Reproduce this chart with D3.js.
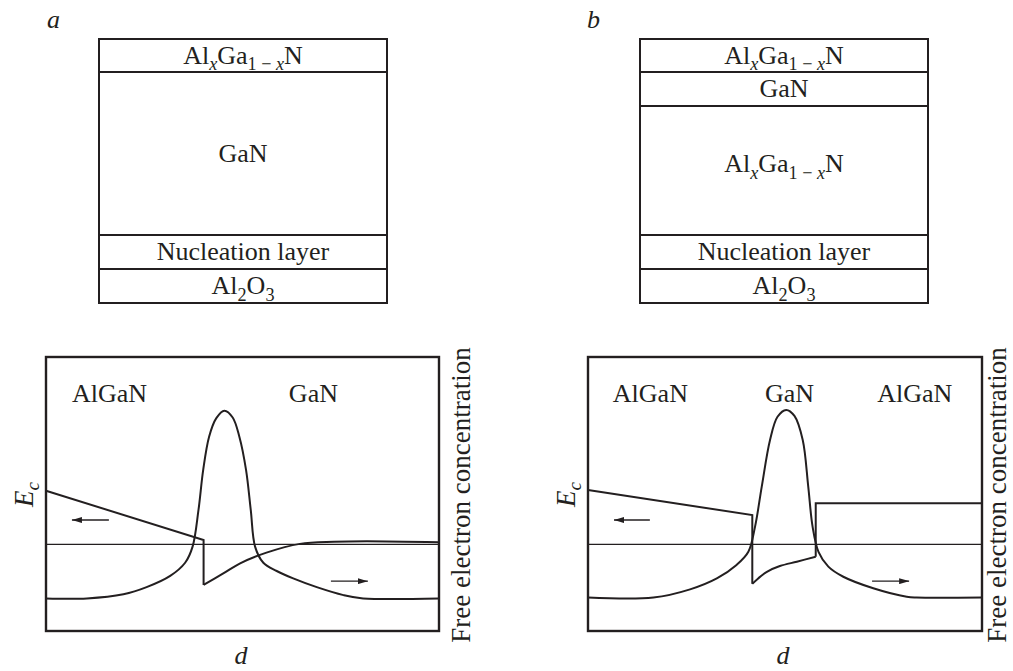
<!DOCTYPE html>
<html><head><meta charset="utf-8">
<script src="https://cdn.jsdelivr.net/npm/d3@7"></script>
<style>
body{margin:0;background:#fff}
svg{display:block}
</style>
</head><body>
<svg id="chart" width="1013" height="671"></svg>
<script>
// ---------------- DATA ----------------
const panelLetters = ["a", "b"];

// layer stacks (top to bottom), thickness in arbitrary units
const layerNamesA = ["Al_xGa_{1 − x}N", "GaN", "Nucleation layer", "Al_2O_3"];
const layerThickA = [33, 163, 34, 34];
const layerNamesB = ["Al_xGa_{1 − x}N", "GaN", "Al_xGa_{1 − x}N", "Nucleation layer", "Al_2O_3"];
const layerThickB = [33, 34, 129, 34, 34];

// band diagram region names and their left position (d units, 0..100)
const regionNamesA = ["AlGaN", "GaN"];
const regionXA = [6.6, 61.8];
const regionNamesB = ["AlGaN", "GaN", "AlGaN"];
const regionXB = [6.3, 44.9, 73.4];

// Fermi level (relative energy units 0..100)
const fermiA = 31.6;
const fermiB = 31.6;

// conduction band edge, panel a
const ecA_straight = [[0, 51.2], [40.1, 33.2], [40.1, 16.8]];
const ecA_curve = [[40.1, 16.8], [45.0, 20.9], [49.4, 24.7], [56.1, 28.6], [64.6, 31.8], [73.3, 32.6], [81.6, 32.8], [100, 32.4]];

// conduction band edge, panel b
const ecB_straight1 = [[0, 51.5], [41.7, 42.3], [41.7, 17.2]];
const ecB_curve = [[41.7, 17.2], [43.2, 19.2], [45.4, 21.6], [48.7, 23.7], [53.0, 25.3], [57.8, 27.1]];
const ecB_straight2 = [[57.8, 27.1], [57.8, 46.6], [100, 46.6]];

// free electron concentration, panel a
const nA = [[0, 11.9], [10.4, 11.9], [19.7, 13.4], [25.6, 16.0], [31.6, 20.1], [35.4, 24.9], [37.3, 30.8],
  [38.8, 44.2], [40.0, 58.8], [41.5, 70.9], [43.3, 77.6], [45.4, 80.4], [47.5, 77.9], [49.2, 70.9],
  [50.9, 58.8], [52.1, 44.2], [53.2, 30.8], [55.3, 24.9], [58.7, 21.9], [62.9, 19.2], [68.9, 16.0],
  [75.7, 13.1], [80.7, 11.9], [100, 11.9]];

// free electron concentration, panel b
const nB = [[0, 12.2], [16.6, 12.2], [25.9, 15.2], [32.7, 19.2], [37.7, 24.1], [40.7, 28.9], [42.4, 38.1],
  [44.1, 52.7], [46.2, 69.7], [48.1, 78.2], [50.3, 80.7], [52.4, 78.5], [54.5, 69.7], [55.9, 52.7],
  [57.0, 38.1], [58.5, 28.9], [61.0, 23.5], [64.8, 19.8], [72.4, 15.6], [80.9, 12.5], [83.4, 12.2], [100, 12.2]];

// direction arrows [x0, x1, y] in panel units (left arrow -> Ec axis, right arrow -> concentration axis)
const arrowsA = [[16.0, 6.6, 40.5], [72.5, 81.9, 18.2]];
const arrowsB = [[15.7, 6.6, 40.5], [72.1, 81.5, 18.2]];

const axisLabelY2 = "Free electron concentration";
const axisLabelX = "d";

// ---------------- LAYOUT ----------------
const INK = "#231f20";
const FONT = "'Liberation Serif', serif";
const svg = d3.select("#chart");

svg.append("defs").append("marker")
  .attr("id", "ah").attr("viewBox", "0 0 10 6").attr("refX", 10).attr("refY", 3)
  .attr("markerWidth", 10).attr("markerHeight", 6).attr("markerUnits", "userSpaceOnUse")
  .attr("orient", "auto")
  .append("path").attr("d", "M0,0 L10,3 L0,6 Z").attr("fill", INK);

function txt(parent) {
  return parent.append("text").attr("font-family", FONT).attr("fill", INK);
}

// rich text parser: "_x" or "_{...}" = subscript, letter x is italic
function richText(sel, str, size) {
  const segs = [];
  let i = 0;
  while (i < str.length) {
    if (str[i] === "_") {
      let s;
      if (str[i + 1] === "{") { const j = str.indexOf("}", i); s = str.slice(i + 2, j); i = j + 1; }
      else { s = str[i + 1]; i += 2; }
      segs.push({ t: s, sub: true });
    } else {
      let j = i; while (j < str.length && str[j] !== "_") j++;
      segs.push({ t: str.slice(i, j), sub: false }); i = j;
    }
  }
  let shifted = 0;
  segs.forEach(sg => {
    const wantShift = sg.sub ? size * 0.26 : 0;
    const dy = wantShift - shifted;
    shifted = wantShift;
    const parts = sg.t.split(/(x)/).filter(p => p.length);
    parts.forEach((p, k) => {
      const ts = sel.append("tspan").text(p)
        .attr("font-family", FONT)
        .attr("font-size", sg.sub ? size * 0.7 : size)
        .attr("font-style", p === "x" ? "italic" : "normal");
      if (k === 0 && dy !== 0) ts.attr("dy", dy);
    });
  });
}

// ---- top layer stacks ----
const stacks = [
  { names: layerNamesA, thick: layerThickA, x0: 99, x1: 387, letterX: 47, labelFrac: [0.5, 0.5, 0.5, 0.5] },
  { names: layerNamesB, thick: layerThickB, x0: 640, x1: 928, letterX: 587, labelFrac: [0.5, 0.5, 0.45, 0.5, 0.5] }
];
stacks.forEach((st, si) => {
  const total = d3.sum(st.thick);
  const ys = d3.scaleLinear().domain([0, total]).range([39, 303]);
  const cum = d3.cumsum([0].concat(st.thick));
  const g = svg.append("g");
  txt(svg).attr("x", st.letterX).attr("y", 28).attr("font-size", 26)
    .attr("font-style", "italic").text(panelLetters[si]);
  st.names.forEach((nm, i) => {
    g.append("rect").attr("x", st.x0).attr("y", ys(cum[i]))
      .attr("width", st.x1 - st.x0).attr("height", ys(cum[i + 1]) - ys(cum[i]))
      .attr("fill", "none").attr("stroke", INK).attr("stroke-width", 2);
    const yc = ys(cum[i] + st.thick[i] * st.labelFrac[i]);
    const t = txt(g).attr("x", (st.x0 + st.x1) / 2).attr("y", yc + 8)
      .attr("text-anchor", "middle").attr("font-size", 26);
    richText(t, nm, 26);
  });
});

// ---- band diagrams ----
const panels = [
  { x0: 46, x1: 439, regions: regionNamesA, regionX: regionXA, fermi: fermiA,
    straight: [ecA_straight], curved: [ecA_curve], n: nA, arrows: arrowsA,
    ecX: 33, ecY: 507, y2X: 470, dX: 241 },
  { x0: 588, x1: 982, regions: regionNamesB, regionX: regionXB, fermi: fermiB,
    straight: [ecB_straight1, ecB_straight2], curved: [ecB_curve], n: nB, arrows: arrowsB,
    ecX: 575, ecY: 507, y2X: 1006, dX: 783 }
];
panels.forEach(p => {
  const x = d3.scaleLinear().domain([0, 100]).range([p.x0, p.x1]);
  const y = d3.scaleLinear().domain([0, 100]).range([631, 357]);
  const g = svg.append("g");
  const lin = d3.line().x(d => x(d[0])).y(d => y(d[1]));
  const smooth = d3.line().x(d => x(d[0])).y(d => y(d[1])).curve(d3.curveCatmullRom.alpha(0.5));

  g.append("line").attr("x1", x(0)).attr("x2", x(100)).attr("y1", y(p.fermi)).attr("y2", y(p.fermi))
    .attr("stroke", INK).attr("stroke-width", 1.1);

  p.straight.forEach(s => g.append("path").attr("d", lin(s)).attr("fill", "none")
    .attr("stroke", INK).attr("stroke-width", 2).attr("stroke-linejoin", "miter"));
  p.curved.forEach(s => g.append("path").attr("d", smooth(s)).attr("fill", "none")
    .attr("stroke", INK).attr("stroke-width", 2));

  g.append("path").attr("d", smooth(p.n)).attr("fill", "none")
    .attr("stroke", INK).attr("stroke-width", 2);

  p.arrows.forEach(a => g.append("line").attr("x1", x(a[0])).attr("x2", x(a[1]))
    .attr("y1", y(a[2])).attr("y2", y(a[2])).attr("stroke", INK).attr("stroke-width", 1.4)
    .attr("marker-end", "url(#ah)"));

  g.append("rect").attr("x", x(0)).attr("y", y(100)).attr("width", x(100) - x(0))
    .attr("height", y(0) - y(100)).attr("fill", "none").attr("stroke", INK).attr("stroke-width", 2.4);

  p.regions.forEach((r, i) => txt(g).attr("x", x(p.regionX[i])).attr("y", y(83.6))
    .attr("font-size", 26).text(r));

  const ec = txt(g).attr("transform", `translate(${p.ecX},${p.ecY}) rotate(-90)`)
    .attr("font-size", 27).attr("font-style", "italic");
  ec.append("tspan").attr("font-family", FONT).text("E");
  ec.append("tspan").attr("font-family", FONT).text("c").attr("font-size", 19).attr("dy", 6);

  txt(g).attr("transform", `translate(${p.y2X},${(357 + 631) / 2 + 1}) rotate(-90)`)
    .attr("text-anchor", "middle").attr("font-size", 27).text(axisLabelY2);

  txt(g).attr("x", p.dX).attr("y", 664).attr("text-anchor", "middle")
    .attr("font-size", 26).attr("font-style", "italic").text(axisLabelX);
});
</script>
</body></html>
